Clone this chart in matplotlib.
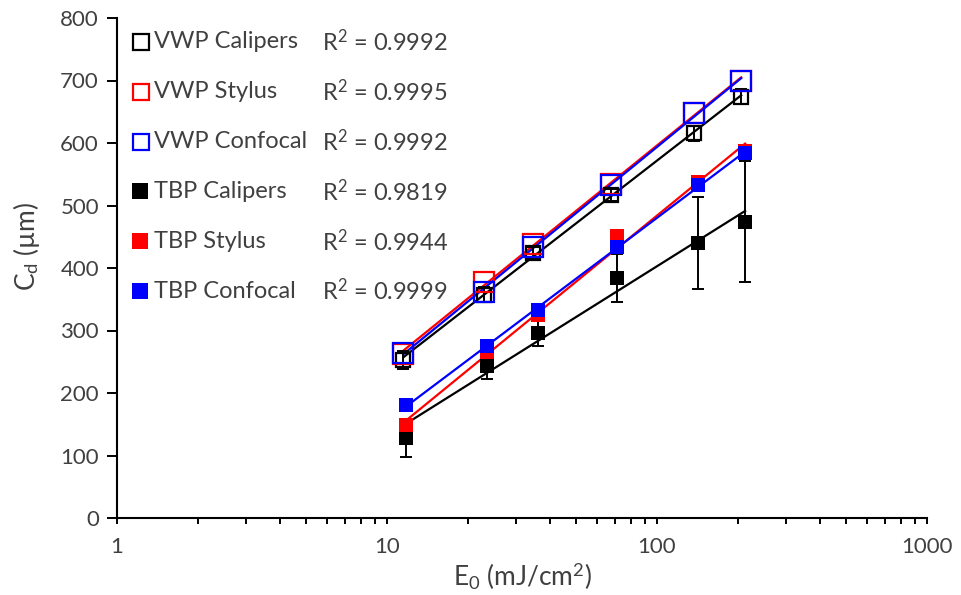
import numpy as np
import matplotlib
matplotlib.use('Agg')
import matplotlib.pyplot as plt
from matplotlib.ticker import LogLocator, NullFormatter, FixedLocator

plt.rcParams['font.family'] = ['Lato', 'DejaVu Sans']
plt.rcParams['mathtext.fontset'] = 'custom'
plt.rcParams['mathtext.rm'] = 'Lato'
plt.rcParams['mathtext.it'] = 'Lato:italic'

## données lues sur le graphique
# fluence (mJ/cm2)
e0_vwp = [11.5, 22.9, 34.7, 67.5, 137, 205]
e0_tbp = [11.8, 23.5, 36.3, 71, 142, 212]

# profondeur de cratère Cd (µm)
vwp_calipers = [253, 357, 424, 517, 616, 674]
vwp_stylus = [262, 378, 438, 535, 648, 700]
vwp_confocal = [264, 362, 434, 533, 648, 699]
tbp_calipers = [128, 243, 296, 384, 440, 474]
tbp_stylus = [149, 265, 325, 451, 537, 588]
tbp_confocal = [181, 275, 333, 434, 533, 584]

# barres d'erreur (calipers seulement)
err_vwp_calipers = [15, 12, 10, 10, 12, 12]
err_tbp_calipers = [30, 21, 21, 38, 73, 97]

labels = ["VWP Calipers", "VWP Stylus", "VWP Confocal",
          "TBP Calipers", "TBP Stylus", "TBP Confocal"]
r2 = ["0.9992", "0.9995", "0.9992", "0.9819", "0.9944", "0.9999"]

series = [
    (e0_vwp, vwp_calipers, err_vwp_calipers, 'black', False, 9.5),
    (e0_vwp, vwp_stylus, None, 'red', False, 14),
    (e0_vwp, vwp_confocal, None, 'blue', False, 14),
    (e0_tbp, tbp_calipers, err_tbp_calipers, 'black', True, 10.5),
    (e0_tbp, tbp_stylus, None, 'red', True, 10.5),
    (e0_tbp, tbp_confocal, None, 'blue', True, 10.5),
]

TXT = '#404040'

fig = plt.figure(figsize=(9.62, 5.95), dpi=100)
ax = fig.add_axes([117/962, 1-518/595, (927-117)/962, 500/595])

# ordre : calipers puis stylus puis confocal (le bleu passe devant)
for i, (x, y, err, col, filled, ms) in enumerate(series):
    x = np.array(x); y = np.array(y)
    # tendance logarithmique (type Excel)
    a, b = np.polyfit(np.log(x), y, 1)
    xx = np.array([x.min(), x.max()])
    ax.plot(xx, a*np.log(xx) + b, color=col, lw=1.6, zorder=2)
    if err is not None:
        ax.errorbar(x, y, yerr=err, fmt='none', ecolor='black', elinewidth=1.4,
                    capsize=4.5, capthick=1.4, zorder=3)
    if filled:
        ax.plot(x, y, 's', ms=ms, mfc=col, mec=col, mew=0, ls='none', zorder=4)
    else:
        ax.plot(x, y, 's', ms=ms, mfc='none', mec=col, mew=1.6, ls='none', zorder=4)

ax.set_xscale('log')
ax.set_xlim(1, 1000)
ax.set_ylim(0, 800)
ax.yaxis.set_major_locator(FixedLocator(range(0, 801, 100)))
ax.xaxis.set_minor_locator(LogLocator(base=10, subs=np.arange(2, 10)))
ax.xaxis.set_minor_formatter(NullFormatter())
ax.set_xticks([1, 10, 100, 1000])
ax.set_xticklabels(['1', '10', '100', '1000'])

for s in ['top', 'right']:
    ax.spines[s].set_visible(False)
for s in ['left', 'bottom']:
    ax.spines[s].set_linewidth(1.5)
ax.tick_params(axis='both', which='major', labelsize=16, width=1.4,
               direction='out', colors='black', labelcolor=TXT)
ax.tick_params(axis='y', which='major', length=7, pad=6)
ax.tick_params(axis='x', which='both', length=4, width=1.4, direction='out', pad=10)

ax.set_xlabel('E$_0$ (mJ/cm$^2$)', fontsize=19, color=TXT)
ax.xaxis.set_label_coords(0.5, -0.086)
ax.set_ylabel('C$_\\mathregular{d}$ (µm)', fontsize=19, color=TXT)
ax.yaxis.set_label_coords(-0.093, 0.544)

# légende faite à la main : marqueur + nom + R²
for k in range(6):
    ypx = 42 + k*49.8
    yf = 1 - ypx/595
    col = series[k][3]
    if series[k][4]:
        ax.plot([140/962], [yf], 's', ms=11, mfc=col, mec=col, mew=0,
                transform=fig.transFigure, clip_on=False)
    else:
        ax.plot([141/962], [yf], 's', ms=11, mfc='none', mec=col, mew=1.6,
                transform=fig.transFigure, clip_on=False)
    ax.text(154/962, yf, labels[k], transform=fig.transFigure,
            fontsize=17, color=TXT, va='center', ha='left')
    ax.text(322/962, yf, 'R$^2$ = ' + r2[k], transform=fig.transFigure,
            fontsize=17, color=TXT, va='center', ha='left')

fig.savefig('out.png', dpi=100)
